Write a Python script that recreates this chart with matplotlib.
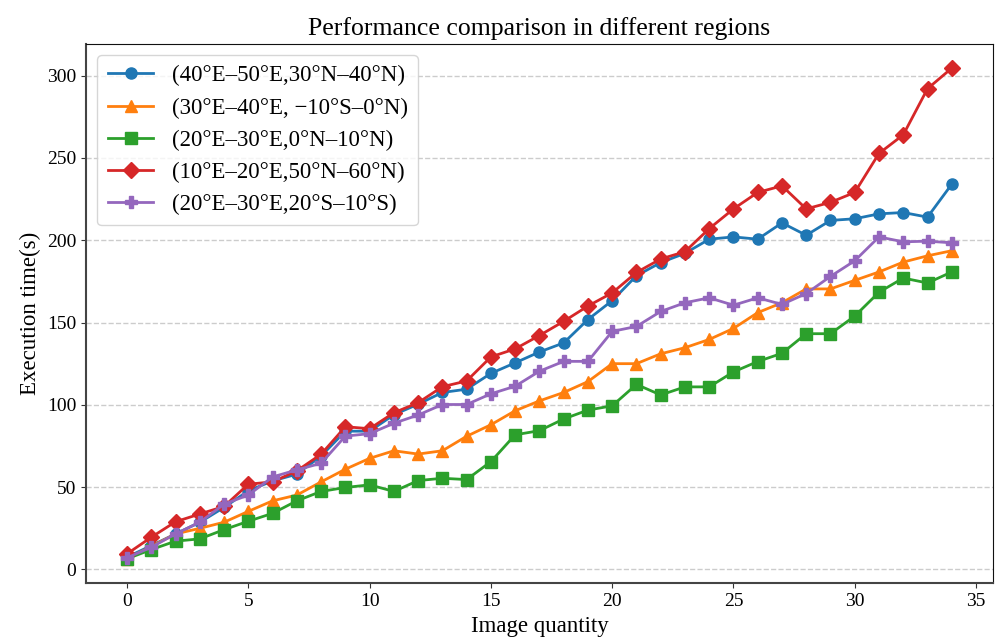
import numpy as np
import matplotlib
matplotlib.use('Agg')
import matplotlib.pyplot as plt

plt.rcParams['font.family'] = ['Liberation Serif', 'DejaVu Serif']
plt.rcParams['mathtext.fontset'] = 'stix'

# data
x = np.arange(35)

region_a = [7.5, 14.5, 21.6, 28.7, 37.7, 47.8, 53.8, 57.9, 68.9, 84, 84,
            94, 100.4, 107.5, 109.5, 119.1, 125.5, 132.1, 137.6, 151.8, 163.3,
            178.4, 186.4, 192, 200.6, 202, 200.6, 210.5, 203, 212, 213,
            216, 216.8, 214, 234]
region_b = [6.5, 14, 21.6, 25, 28.7, 35.3, 41.7, 45.2, 53.2, 60.9, 67.5,
            72.1, 70.1, 72.1, 80.9, 87.9, 96.4, 102.4, 107.5, 114.1, 125,
            125, 131, 134.7, 139.7, 146.4, 156, 162, 170.4, 170.4, 175.6,
            180.7, 186.7, 190.5, 193.6]
region_c = [6.5, 12.1, 17.2, 18.6, 24.2, 29.3, 34.1, 41.7, 47.4, 49.8, 51.4,
            47.4, 54, 55.4, 54.6, 65.5, 81.8, 84.3, 91.4, 96.8, 99.4,
            112.4, 106, 110.9, 110.9, 120, 126.3, 131.3, 143.2, 143.2, 153.9,
            168.4, 177, 174, 180.7]
region_d = [9.5, 19.6, 29, 33.7, 38.3, 51.8, 53.2, 59.9, 70, 86.7, 85.5,
            95.2, 101.3, 111, 114.5, 129.1, 134, 142.1, 150.7, 160, 168,
            180.4, 188.6, 193, 207, 219, 229, 233, 219, 223, 229,
            252.7, 264, 292, 304.5]
region_e = [7.1, 13.5, 21.6, 28.7, 39.7, 45.2, 56.2, 60.5, 64.5, 81, 82.5,
            88.8, 93.8, 100.2, 100.2, 106.7, 111.3, 120.4, 126.4, 126.4, 144.6,
            147.6, 156.7, 162, 165, 160.5, 165, 161, 167.6, 178, 187.5,
            202, 199, 199.4, 198.4]

labels = ['(40°E–50°E,30°N–40°N)',
          '(30°E–40°E, −10°S–0°N)',
          '(20°E–30°E,0°N–10°N)',
          '(10°E–20°E,50°N–60°N)',
          '(20°E–30°E,20°S–10°S)']
series = [region_a, region_b, region_c, region_d, region_e]
markers = ['o', '^', 's', 'D', 'P']
colors = ['#1f77b4', '#ff7f0e', '#2ca02c', '#d62728', '#9467bd']

fig = plt.figure(figsize=(9.98, 6.41), dpi=100)
ax = fig.add_axes([0.086, 0.09, 0.909, 0.842])

for ys, lab, m, c in zip(series, labels, markers, colors):
    ax.plot(x, ys, marker=m, color=c, label=lab, linewidth=2, markersize=8)

ax.set_title('Performance comparison in different regions', fontsize=18.5)
ax.set_xlabel('Image quantity', fontsize=16.5)
ax.set_ylabel('Execution time(s)', fontsize=16.5)
ax.tick_params(labelsize=14, color='#333333')
ax.set_yticks([0, 50, 100, 150, 200, 250, 300])
ax.set_xticks([0, 5, 10, 15, 20, 25, 30, 35])
ax.yaxis.grid(True, linestyle='--', color='#cccccc', linewidth=1)
ax.set_axisbelow(True)
for s in ['left', 'bottom']:
    ax.spines[s].set_color('#444444')
    ax.spines[s].set_linewidth(1.5)
for s in ['top', 'right']:
    ax.spines[s].set_color('#111111')

ax.legend(loc='upper left', fontsize=16.5, handlelength=2.0, borderpad=0.45,
          labelspacing=0.48)

fig.savefig('out.png', dpi=100)
